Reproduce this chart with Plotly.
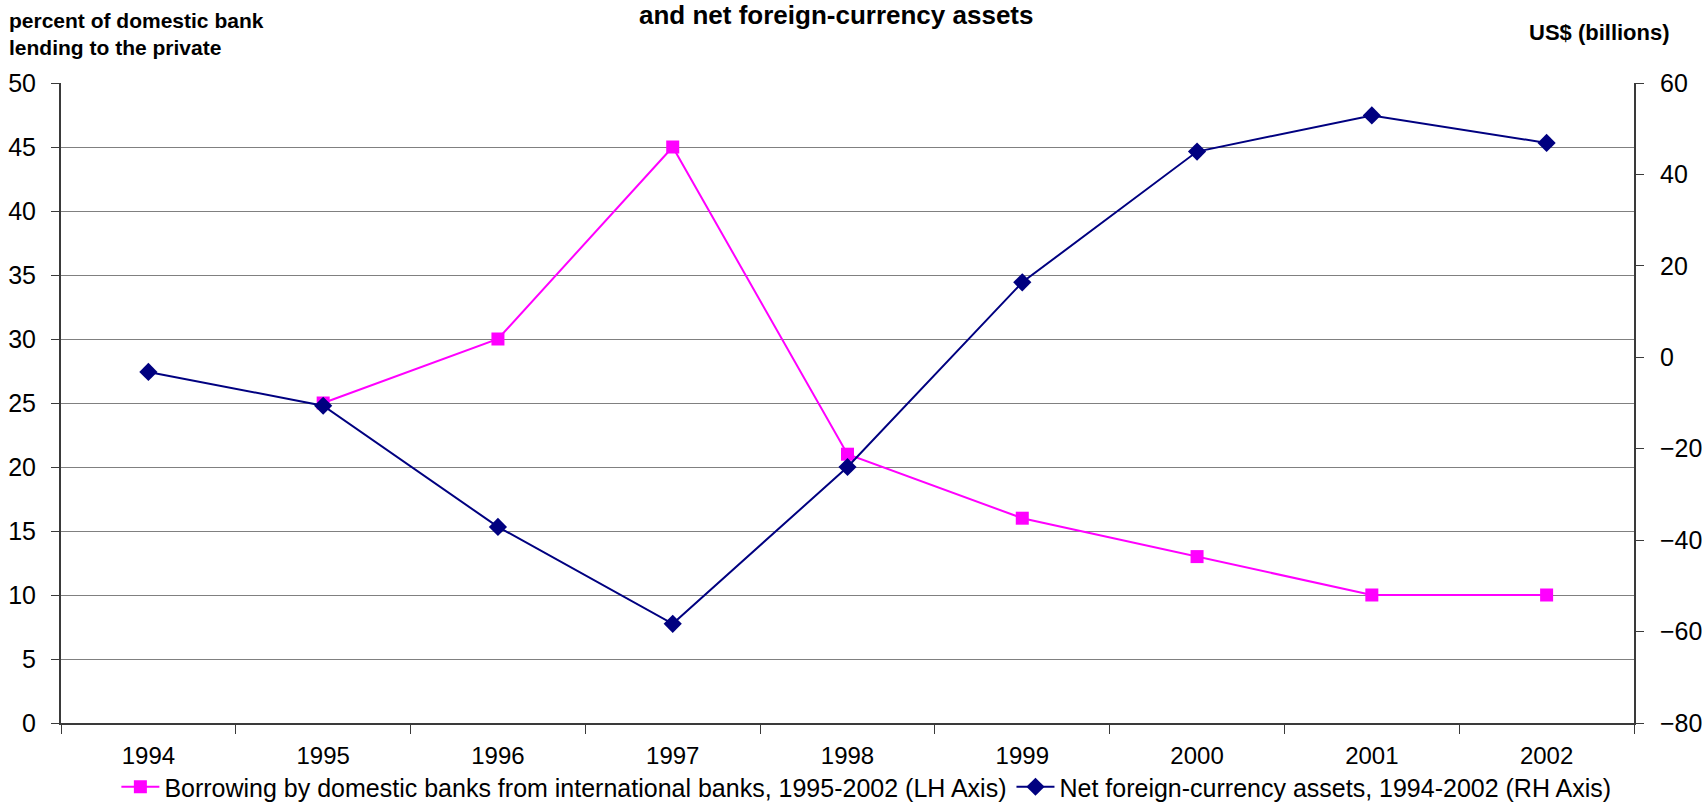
import plotly.graph_objects as go

years = ["1994", "1995", "1996", "1997", "1998", "1999", "2000", "2001", "2002"]
borrow_years = ["1995", "1996", "1997", "1998", "1999", "2000", "2001", "2002"]
borrowing = [25, 30, 45, 21, 16, 13, 10, 10]
net_fx_assets = [-3.2, -10.6, -37.1, -58.3, -24.0, 16.4, 45.0, 52.9, 46.9]

left_ticks = [0, 5, 10, 15, 20, 25, 30, 35, 40, 45, 50]
right_ticks = [-80, -60, -40, -20, 0, 20, 40, 60]

FONT = "Liberation Sans, Arial, sans-serif"
AX = "#3a3a3a"

fig = go.Figure()
fig.add_trace(go.Scatter(
    x=borrow_years, y=borrowing, mode="lines+markers",
    name="Borrowing by domestic banks from international banks, 1995-2002 (LH Axis)",
    line=dict(color="#FF00FF", width=2),
    marker=dict(symbol="square", size=13, color="#FF00FF"),
    yaxis="y"))
fig.add_trace(go.Scatter(
    x=years, y=net_fx_assets, mode="lines+markers",
    name="Net foreign-currency assets, 1994-2002 (RH Axis)",
    line=dict(color="#000080", width=2),
    marker=dict(symbol="diamond", size=14, color="#000080"),
    yaxis="y2"))

fig.update_layout(
    width=1702, height=808,
    margin=dict(l=61, r=68, t=83, b=85, autoexpand=False),
    paper_bgcolor="white", plot_bgcolor="white",
    font=dict(family=FONT, color="black", size=22),
    showlegend=True,
    legend=dict(orientation="h", x=0.512, xanchor="center", y=-0.1, yanchor="middle",
                font=dict(size=25), itemwidth=38, tracegroupgap=0),
    xaxis=dict(type="category", categoryorder="array", categoryarray=years,
               range=[-0.5, 8.5], tickson="boundaries", ticks="outside", ticklen=9,
               tickcolor=AX, showline=True, linecolor=AX, linewidth=2,
               showgrid=False, tickfont=dict(size=24), ticklabelstandoff=10,
               automargin=False),
    yaxis=dict(range=[0, 50], tickvals=left_ticks, ticks="outside", ticklen=8,
               tickcolor=AX, showline=True, linecolor=AX, linewidth=2,
               showgrid=True, gridcolor="#808080", gridwidth=1, zeroline=False,
               tickfont=dict(size=25), ticklabelstandoff=10, automargin=False),
    yaxis2=dict(range=[-80, 60], tickvals=right_ticks, overlaying="y", side="right",
                ticks="outside", ticklen=8, tickcolor=AX, showline=True,
                linecolor=AX, linewidth=2, showgrid=False, zeroline=False,
                tickfont=dict(size=25), ticklabelstandoff=11, automargin=False),
    annotations=[
        dict(text="<b>and net foreign-currency assets</b>", xref="paper", yref="paper",
             x=0.493, y=1.0, yshift=68, xanchor="center", yanchor="middle",
             showarrow=False, font=dict(size=26)),
        dict(text="<b>percent of domestic bank<br>lending to the private</b>",
             xref="paper", yref="paper", x=0, xshift=-54, y=1.0, yshift=49,
             xanchor="left", yanchor="middle", align="left", showarrow=False,
             font=dict(size=21)),
        dict(text="<b>US$ (billions)</b>", xref="paper", yref="paper",
             x=1.0, xshift=38, y=1.0, yshift=51, xanchor="right", yanchor="middle",
             showarrow=False, font=dict(size=22)),
    ],
)

fig.write_html("out.html", config={"displayModeBar": False},
               post_script="document.body.style.margin='0';document.body.style.overflow='hidden';")
